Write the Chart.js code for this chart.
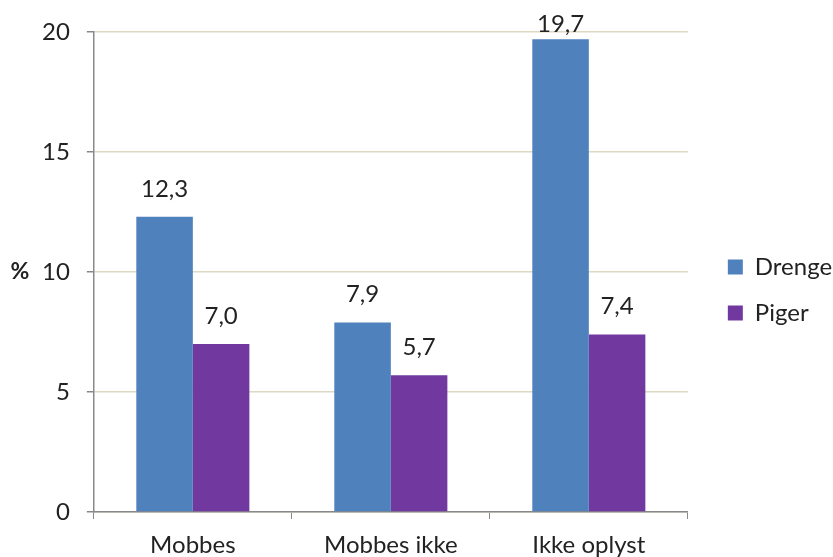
<!DOCTYPE html>
<html>
<head>
<meta charset="utf-8">
<script src="https://cdn.jsdelivr.net/npm/chart.js@4"></script>
<style>
  html, body { margin: 0; padding: 0; background: #ffffff; }
  #wrap { width: 833px; height: 557px; }
</style>
</head>
<body>
<div id="wrap"><canvas id="chart" width="833" height="557"></canvas></div>
<script>
const categories = ['Mobbes', 'Mobbes ikke', 'Ikke oplyst'];
const drenge = [12.3, 7.9, 19.7];
const piger = [7.0, 5.7, 7.4];
const seriesNames = ['Drenge', 'Piger'];
const yTicks = [0, 5, 10, 15, 20];

const FONT = 'Lato, "Open Sans", sans-serif';
const TEXT = '#222222';
const fmt = v => v.toFixed(1).replace('.', ',');

// value labels above each bar, kept inside the plot top
const valueLabels = {
  id: 'valueLabels',
  afterDatasetsDraw(chart) {
    const ctx = chart.ctx;
    ctx.save();
    ctx.font = '24px ' + FONT;
    ctx.fillStyle = TEXT;
    ctx.textAlign = 'center';
    ctx.textBaseline = 'alphabetic';
    chart.data.datasets.forEach((ds, di) => {
      const meta = chart.getDatasetMeta(di);
      meta.data.forEach((bar, i) => {
        const y = Math.max(bar.y - 20, chart.chartArea.top);
        ctx.fillText(fmt(ds.data[i]), bar.x, y);
      });
    });
    ctx.restore();
  }
};

// unit marker to the left of the value axis
const unitMark = {
  id: 'unitMark',
  afterDraw(chart) {
    const ctx = chart.ctx;
    const y = chart.scales.y.getPixelForValue(10);
    ctx.save();
    ctx.font = 'bold 23px ' + FONT;
    ctx.fillStyle = TEXT;
    ctx.textAlign = 'center';
    ctx.textBaseline = 'middle';
    ctx.fillText('%', 20, y);
    ctx.restore();
  }
};

// let the category labels run to the bottom edge of the canvas
const categoryRoom = {
  id: 'categoryRoom',
  afterLayout(chart) { chart.scales.x.bottom = chart.height; }
};

new Chart(document.getElementById('chart'), {
  type: 'bar',
  data: {
    labels: categories,
    datasets: [
      { label: seriesNames[0], data: drenge, backgroundColor: '#4F81BD', yAxisID: 'y' },
      { label: seriesNames[1], data: piger, backgroundColor: '#7139A0', yAxisID: 'y' }
    ]
  },
  options: {
    responsive: false,
    animation: false,
    devicePixelRatio: 1,
    categoryPercentage: 0.571,
    barPercentage: 1.0,
    layout: { padding: { top: 32, left: 25, right: -9, bottom: 9 } },
    plugins: {
      tooltip: { enabled: false },
      legend: {
        position: 'right',
        labels: {
          boxWidth: 15,
          boxHeight: 15,
          padding: 22,
          color: TEXT,
          font: { family: FONT, size: 24 }
        }
      }
    },
    scales: {
      x: {
        grid: { display: true, drawOnChartArea: false, offset: true, tickLength: 7, tickColor: '#898989' },
        border: { color: '#898989', width: 1.5 },
        ticks: { color: TEXT, padding: 12, font: { family: FONT, size: 24 } },
        afterFit(scale) { scale.height = 36; }
      },
      y: {
        min: 0,
        max: 20,
        afterBuildTicks(scale) { scale.ticks = yTicks.map(v => ({ value: v })); },
        afterFit(scale) { scale.paddingTop = 0; scale.paddingBottom = 0; },
        grid: { color: '#DDD9C3', lineWidth: 1.5, tickLength: 7, tickColor: '#898989' },
        border: { color: '#898989', width: 1.5 },
        ticks: { color: TEXT, padding: 17, font: { family: FONT, size: 24 } }
      },
      gap: {
        type: 'linear',
        axis: 'y',
        position: 'right',
        display: true,
        grid: { display: false, drawTicks: false },
        border: { display: false },
        ticks: { display: false },
        afterFit(scale) { scale.width = 18; }
      }
    }
  },
  plugins: [valueLabels, unitMark, categoryRoom]
});
</script>
</body>
</html>
